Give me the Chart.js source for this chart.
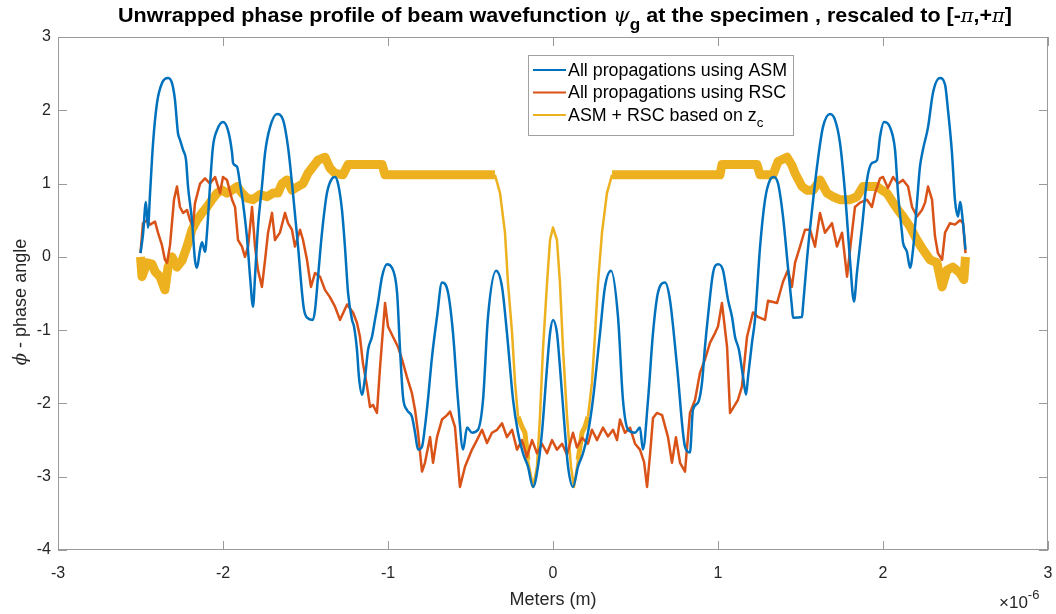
<!DOCTYPE html>
<html>
<head>
<meta charset="utf-8">
<script src="https://cdn.jsdelivr.net/npm/chart.js@4.4.1/dist/chart.umd.min.js"></script>
<style>
  body { margin: 0; background: #fff; }
  canvas { display: block; }
</style>
</head>
<body>
<canvas id="myChart" width="1056" height="614"></canvas>
<script>
// x values are in units of 1e-6 m (axis shows the x10^-6 multiplier)
var xTicks = [-3, -2, -1, 0, 1, 2, 3];
var yTicks = [-4, -3, -2, -1, 0, 1, 2, 3];

// All propagations using ASM
var asmX = [-2.5, -2.485, -2.467, -2.455, -2.442, -2.424, -2.4, -2.37, -2.333, -2.309, -2.291, -2.273, -2.261, -2.242, -2.224, -2.212, -2.188, -2.17, -2.158, -2.139, -2.127, -2.109, -2.097, -2.079, -2.061, -2.036, -2.0, -1.97, -1.945, -1.939, -1.915, -1.897, -1.879, -1.855, -1.836, -1.818, -1.806, -1.788, -1.764, -1.745, -1.715, -1.673, -1.636, -1.606, -1.576, -1.545, -1.521, -1.509, -1.491, -1.455, -1.442, -1.424, -1.4, -1.37, -1.339, -1.321, -1.303, -1.279, -1.261, -1.242, -1.218, -1.206, -1.188, -1.176, -1.158, -1.139, -1.121, -1.097, -1.079, -1.061, -1.036, -1.006, -0.976, -0.945, -0.927, -0.909, -0.885, -0.855, -0.836, -0.818, -0.794, -0.776, -0.758, -0.733, -0.703, -0.673, -0.636, -0.606, -0.576, -0.545, -0.521, -0.491, -0.455, -0.424, -0.394, -0.345, -0.309, -0.279, -0.242, -0.212, -0.182, -0.152, -0.121, -0.091, -0.067, -0.036, -0.018, 0,
  0.024, 0.042, 0.073, 0.091, 0.121, 0.152, 0.182, 0.212, 0.242, 0.285, 0.315, 0.352, 0.394, 0.424, 0.455, 0.497, 0.527, 0.545, 0.576, 0.606, 0.636, 0.679, 0.709, 0.752, 0.8, 0.83, 0.848, 0.879, 0.903, 0.921, 0.939, 0.97, 1.0, 1.03, 1.061, 1.085, 1.103, 1.127, 1.152, 1.17, 1.182, 1.206, 1.224, 1.255, 1.285, 1.315, 1.339, 1.364, 1.394, 1.424, 1.448, 1.455, 1.509, 1.515, 1.539, 1.57, 1.6, 1.636, 1.679, 1.709, 1.739, 1.77, 1.8, 1.824, 1.842, 1.873, 1.903, 1.933, 1.964, 1.982, 2.006, 2.042, 2.073, 2.091, 2.115, 2.121, 2.145, 2.164, 2.182, 2.206, 2.224, 2.242, 2.273, 2.303, 2.345, 2.376, 2.394, 2.418, 2.436, 2.455, 2.467, 2.485, 2.5];
var asmY = [0.05, 0.3, 0.75, 0.4, 0.87, 1.55, 2.1, 2.37, 2.44, 2.37, 2.14, 1.69, 1.6, 1.46, 1.32, 0.96, 0.5, -0.04, -0.15, 0.1, 0.2, 0.07, 0.33, 0.96, 1.5, 1.73, 1.84, 1.73, 1.42, 1.28, 1.23, 1.0, 0.74, 0.27, -0.27, -0.68, -0.27, 0.41, 0.96, 1.42, 1.77, 1.95, 1.87, 1.5, 0.87, 0.14, -0.49, -0.72, -0.83, -0.86, -0.72, -0.27, 0.33, 0.87, 1.07, 1.09, 1.0, 0.64, 0.14, -0.49, -0.86, -0.95, -1.27, -1.64, -1.88, -1.64, -1.27, -1.09, -0.86, -0.63, -0.27, -0.1, -0.15, -0.49, -1.27, -1.91, -2.09, -2.18, -2.4, -2.63, -2.59, -2.32, -1.95, -1.36, -0.82, -0.35, -0.49, -1.04, -1.95, -2.63, -2.33, -2.4, -2.36, -1.95, -0.82, -0.19, -0.41, -1.04, -1.95, -2.4, -2.68, -2.86, -3.14, -2.86, -2.4, -1.5, -1.04, -0.86,
  -1.04, -1.5, -2.4, -2.86, -3.14, -2.86, -2.68, -2.4, -1.95, -1.04, -0.41, -0.19, -0.82, -1.95, -2.36, -2.4, -2.33, -2.63, -1.95, -1.04, -0.49, -0.35, -0.59, -1.5, -2.59, -2.67, -2.09, -1.99, -1.72, -1.23, -0.82, -0.22, -0.1, -0.18, -0.59, -0.82, -1.09, -1.27, -1.64, -1.88, -1.64, -1.17, -0.86, 0.14, 0.78, 1.05, 1.09, 1.0, 0.55, -0.14, -0.68, -0.83, -0.82, -0.68, -0.04, 0.64, 1.23, 1.77, 1.95, 1.87, 1.56, 0.87, -0.04, -0.61, -0.22, 0.41, 1.05, 1.28, 1.32, 1.64, 1.84, 1.77, 1.46, 0.87, 0.33, 0.2, 0.07, -0.15, 0.1, 0.74, 1.23, 1.46, 1.77, 2.24, 2.44, 2.35, 2.0, 1.42, 0.78, 0.55, 0.75, 0.46, 0.1];

// All propagations using RSC
var rscX = [-2.5, -2.485, -2.461, -2.442, -2.412, -2.394, -2.37, -2.352, -2.339, -2.321, -2.297, -2.279, -2.261, -2.242, -2.218, -2.2, -2.182, -2.17, -2.139, -2.109, -2.079, -2.048, -2.018, -2.0, -1.976, -1.945, -1.927, -1.909, -1.885, -1.867, -1.848, -1.824, -1.806, -1.788, -1.764, -1.745, -1.727, -1.703, -1.685, -1.655, -1.624, -1.606, -1.582, -1.564, -1.533, -1.515, -1.491, -1.467, -1.442, -1.412, -1.382, -1.352, -1.321, -1.291, -1.248, -1.212, -1.188, -1.17, -1.152, -1.127, -1.109, -1.091, -1.067, -1.048, -1.018, -1.0, -0.97, -0.939, -0.915, -0.885, -0.855, -0.836, -0.818, -0.794, -0.776, -0.745, -0.727, -0.703, -0.673, -0.642, -0.624, -0.594, -0.564, -0.533, -0.491, -0.461, -0.43, -0.4, -0.37, -0.339, -0.309, -0.279, -0.248, -0.218, -0.188, -0.158, -0.127, -0.097, -0.067, -0.036, -0.006,
  0.024, 0.055, 0.085, 0.121, 0.145, 0.176, 0.212, 0.236, 0.267, 0.303, 0.333, 0.364, 0.388, 0.406, 0.436, 0.467, 0.497, 0.527, 0.552, 0.57, 0.588, 0.606, 0.63, 0.661, 0.697, 0.721, 0.745, 0.77, 0.8, 0.83, 0.861, 0.891, 0.921, 0.952, 0.982, 1.0, 1.024, 1.055, 1.073, 1.103, 1.121, 1.145, 1.176, 1.212, 1.242, 1.285, 1.303, 1.358, 1.394, 1.424, 1.448, 1.467, 1.497, 1.527, 1.558, 1.588, 1.618, 1.648, 1.691, 1.721, 1.752, 1.782, 1.812, 1.83, 1.861, 1.903, 1.933, 1.952, 1.982, 2.0, 2.03, 2.061, 2.091, 2.121, 2.152, 2.176, 2.206, 2.236, 2.255, 2.273, 2.297, 2.315, 2.333, 2.358, 2.376, 2.406, 2.436, 2.467, 2.485, 2.5];
var rscY = [0.05, 0.46, 0.5, 0.44, 0.48, 0.33, 0.16, -0.04, -0.08, 0.16, 0.78, 0.96, 0.68, 0.6, 0.64, 0.5, 0.41, 0.73, 1.0, 1.07, 1.0, 1.09, 0.87, 1.09, 1.05, 0.78, 0.68, 0.23, 0.14, 0, 0.14, 0.68, 0.14, -0.18, -0.41, -0.04, 0.33, 0.6, 0.23, 0.33, 0.6, 0.46, 0.37, 0.14, 0.37, 0.23, -0.04, -0.41, -0.22, -0.27, -0.45, -0.55, -0.68, -0.86, -0.65, -0.76, -0.9, -1.09, -1.45, -1.77, -2.05, -2.02, -2.13, -1.5, -0.63, -0.95, -1.09, -1.23, -1.4, -1.64, -1.86, -2.09, -2.4, -2.93, -2.81, -2.46, -2.81, -2.46, -2.22, -2.16, -2.11, -2.32, -3.14, -2.86, -2.63, -2.5, -2.36, -2.54, -2.4, -2.36, -2.27, -2.46, -2.36, -2.63, -2.5, -2.73, -2.5, -2.68, -2.55, -2.68, -2.5,
  -2.63, -2.55, -2.7, -2.4, -2.6, -2.47, -2.55, -2.36, -2.5, -2.33, -2.45, -2.36, -2.5, -2.22, -2.4, -2.33, -2.55, -2.63, -2.8, -3.14, -2.7, -2.2, -2.13, -2.16, -2.46, -2.81, -2.46, -2.81, -2.93, -2.13, -1.95, -1.58, -1.4, -1.17, -1.04, -0.95, -0.63, -1.23, -2.13, -2.02, -1.95, -1.77, -1.09, -0.76, -0.82, -0.86, -0.6, -0.63, -0.34, -0.18, -0.41, -0.08, 0.14, 0.37, 0.37, 0.14, 0.6, 0.33, 0.46, 0.14, 0.33, -0.27, 0.33, 0.68, 0.74, 0.78, 0.68, 0.87, 1.07, 1.09, 0.94, 1.09, 1.0, 1.05, 0.96, 0.68, 0.55, 0.64, 0.74, 0.96, 0.78, 0.28, 0.05, -0.04, 0.33, 0.46, 0.44, 0.5, 0.46, 0.05];

// ASM + RSC based on z_c
var mixX = [-2.5, -2.491, -2.461, -2.43, -2.412, -2.382, -2.352, -2.333, -2.309, -2.279, -2.248, -2.218, -2.188, -2.158, -2.127, -2.097, -2.067, -2.036, -2.006, -1.976, -1.945, -1.915, -1.885, -1.855, -1.818, -1.776, -1.733, -1.697, -1.667, -1.642, -1.612, -1.582, -1.545, -1.515, -1.485, -1.455, -1.424, -1.382, -1.352, -1.321, -1.273, -1.242, -1.036, -1.018, -0.352,
  -0.321, -0.291, -0.273, -0.248, -0.23, -0.212, -0.188, -0.17, -0.152, -0.121, -0.097, -0.079, -0.061, -0.036, -0.018, 0, 0.024, 0.042, 0.061, 0.085, 0.109, 0.127, 0.152, 0.176, 0.194, 0.212, 0.236, 0.255, 0.273, 0.297, 0.327, 0.358,
  1.012, 1.024, 1.236, 1.255, 1.333, 1.364, 1.418, 1.448, 1.467, 1.509, 1.539, 1.576, 1.618, 1.661, 1.697, 1.739, 1.8, 1.842, 1.879, 1.964, 1.994, 2.024, 2.061, 2.091, 2.121, 2.164, 2.206, 2.242, 2.285, 2.327, 2.358, 2.388, 2.424, 2.467, 2.49, 2.5];
var mixY = [0, -0.27, -0.08, -0.1, -0.2, -0.27, -0.45, -0.14, 0, -0.14, -0.05, 0.14, 0.37, 0.5, 0.6, 0.68, 0.78, 0.87, 0.91, 0.87, 0.91, 0.96, 0.87, 0.8, 0.78, 0.85, 0.82, 0.87, 0.87, 1.0, 1.05, 0.91, 0.96, 1.0, 1.14, 1.23, 1.32, 1.36, 1.21, 1.14, 1.12, 1.26, 1.26, 1.12, 1.12,
  0.87, 0.33, -0.35, -1.04, -1.72, -2.18, -2.32, -2.4, -2.77, -3.14, -2.86, -2.18, -1.27, -0.35, 0.23, 0.4, 0.23, -0.35, -1.27, -2.18, -2.86, -3.14, -2.77, -2.4, -2.32, -2.18, -1.72, -1.04, -0.35, 0.33, 0.87, 1.12,
  1.12, 1.26, 1.26, 1.12, 1.12, 1.3, 1.36, 1.25, 1.14, 0.96, 0.91, 0.91, 1.05, 0.87, 0.82, 0.78, 0.78, 0.82, 0.96, 0.96, 0.91, 0.87, 0.74, 0.64, 0.55, 0.41, 0.23, 0.1, -0.04, -0.08, -0.41, -0.18, -0.14, -0.22, -0.31, 0];

var seriesNames = ['All propagations using ASM', 'All propagations using RSC', 'ASM + RSC based on z'];
var seriesColors = ['#0072BD', '#D95319', '#EDB120'];

function toPoints(xs, ys) {
    return xs.map(function (x, i) { return { x: x, y: ys[i] }; });
}

var TEXT = '#262626';
var AXIS = '#9a9a9a';
var SANS = "'Liberation Sans', Arial, sans-serif";
var NARROW = "'Liberation Sans Narrow', 'Liberation Sans', Arial, sans-serif";
var MATH = "'DejaVu Serif', serif";

// draw a run of differently styled pieces, squeezed to a given width
function richText(ctx, parts, x, y, width) {
    var total = 0;
    parts.forEach(function (p) { ctx.font = p.f; total += ctx.measureText(p.t).width; });
    var s = width ? width / total : 1;
    ctx.save();
    ctx.translate(x, y);
    ctx.scale(s, 1);
    var cx = 0;
    parts.forEach(function (p) {
        ctx.font = p.f;
        ctx.fillText(p.t, cx, p.dy || 0);
        cx += ctx.measureText(p.t).width;
    });
    ctx.restore();
    return total * s;
}

var decorations = {
    id: 'decorations',
    afterDraw: function (chart) {
        var ctx = chart.ctx;
        var a = chart.chartArea;
        var xs = chart.scales.x, ys = chart.scales.y;
        ctx.save();

        // box with inward ticks on all four sides
        ctx.strokeStyle = AXIS;
        ctx.lineWidth = 1;
        ctx.strokeRect(a.left + 0.5, a.top + 0.5, a.right - a.left - 1, a.bottom - a.top - 1);
        var tl = 9;
        ctx.beginPath();
        xTicks.forEach(function (v) {
            var px = Math.round(xs.getPixelForValue(v)) + 0.5;
            ctx.moveTo(px, a.bottom); ctx.lineTo(px, a.bottom - tl);
            ctx.moveTo(px, a.top); ctx.lineTo(px, a.top + tl);
        });
        yTicks.forEach(function (v) {
            var py = Math.round(ys.getPixelForValue(v)) + 0.5;
            ctx.moveTo(a.left, py); ctx.lineTo(a.left + tl, py);
            ctx.moveTo(a.right, py); ctx.lineTo(a.right - tl, py);
        });
        ctx.stroke();

        // title
        ctx.fillStyle = '#000';
        ctx.textBaseline = 'alphabetic';
        ctx.textAlign = 'left';
        richText(ctx, [
            { t: 'Unwrapped phase profile of beam wavefunction ', f: 'bold 20px ' + NARROW },
            { t: '\u03C8', f: 'italic 20px ' + MATH },
            { t: 'g', f: 'bold 16px ' + NARROW, dy: 8 },
            { t: ' at the specimen , rescaled to [-', f: 'bold 20px ' + NARROW },
            { t: '\u03C0', f: 'italic 18px ' + MATH },
            { t: ',+', f: 'bold 20px ' + NARROW },
            { t: '\u03C0', f: 'italic 18px ' + MATH },
            { t: ']', f: 'bold 20px ' + NARROW }
        ], 118, 22, 894);

        // axis titles
        ctx.fillStyle = TEXT;
        ctx.font = '18px ' + SANS;
        ctx.textAlign = 'center';
        ctx.fillText('Meters (m)', (a.left + a.right) / 2, 605);

        ctx.save();
        ctx.translate(26, 302);
        ctx.rotate(-Math.PI / 2);
        var yParts = [
            { t: '\u03D5', f: 'italic 18px ' + MATH },
            { t: ' - phase angle', f: '18px ' + SANS }
        ];
        var w = 0;
        yParts.forEach(function (p) { ctx.font = p.f; w += ctx.measureText(p.t).width; });
        ctx.textAlign = 'left';
        richText(ctx, yParts, -w / 2, 0);
        ctx.restore();

        // exponent of the x axis
        ctx.textAlign = 'left';
        richText(ctx, [
            { t: '\u00D710', f: '17px ' + SANS },
            { t: '-6', f: '13px ' + SANS, dy: -9 }
        ], 999, 608);

        // legend
        var lx = 528, ly = 55, lw = 265, lh = 80;
        ctx.fillStyle = '#fff';
        ctx.fillRect(lx, ly, lw, lh);
        ctx.strokeStyle = '#a0a0a0';
        ctx.strokeRect(lx + 0.5, ly + 0.5, lw, lh);
        ctx.font = '16px ' + SANS;
        var fs = 16 * 219 / ctx.measureText(seriesNames[0]).width;
        var rows = [70, 92.5, 115];
        seriesNames.forEach(function (name, i) {
            ctx.strokeStyle = seriesColors[i];
            ctx.lineWidth = 2;
            ctx.beginPath();
            ctx.moveTo(533, rows[i]); ctx.lineTo(566, rows[i]);
            ctx.stroke();
            ctx.fillStyle = '#000';
            ctx.textBaseline = 'middle';
            var parts = [{ t: name, f: fs.toFixed(2) + 'px ' + SANS }];
            if (i === 2) parts.push({ t: 'c', f: (fs * 0.75).toFixed(2) + 'px ' + SANS, dy: 7 });
            richText(ctx, parts, 568, rows[i] + 1);
        });
        ctx.restore();
    }
};

var ctx = document.getElementById('myChart').getContext('2d');
var chart = new Chart(ctx, {
    type: 'line',
    data: {
        datasets: [{
            label: seriesNames[0],
            data: toPoints(asmX, asmY),
            borderColor: seriesColors[0],
            borderWidth: 2.5,
            cubicInterpolationMode: 'monotone',
            pointRadius: 0
        }, {
            label: seriesNames[1],
            data: toPoints(rscX, rscY),
            borderColor: seriesColors[1],
            borderWidth: 2.5,
            borderJoinStyle: 'round',
            pointRadius: 0
        }, {
            label: seriesNames[2],
            data: toPoints(mixX, mixY),
            borderColor: seriesColors[2],
            borderWidth: 2.5,
            borderJoinStyle: 'round',
            pointRadius: 0,
            // the noisy outer parts show up as a thick band
            segment: {
                borderWidth: function (c) {
                    var m = Math.abs((c.p0.parsed.x + c.p1.parsed.x) / 2);
                    if (m > 0.35) return 9;
                    if (m > 0.14 && m < 0.22) return 5;
                    return 2.5;
                }
            }
        }]
    },
    options: {
        responsive: false,
        animation: false,
        layout: { padding: { left: 0, right: 8, top: 37, bottom: 0 } },
        plugins: {
            legend: { display: false },
            tooltip: { enabled: false }
        },
        scales: {
            x: {
                type: 'linear',
                min: -3,
                max: 3,
                afterFit: function (s) { s.height = 64; s.paddingLeft = 0; s.paddingRight = 0; },
                afterBuildTicks: function (s) { s.ticks = xTicks.map(function (v) { return { value: v }; }); },
                grid: { display: false, drawTicks: false },
                border: { display: false },
                ticks: { color: TEXT, font: { family: SANS, size: 16 }, padding: 14 }
            },
            y: {
                type: 'linear',
                min: -4,
                max: 3,
                afterFit: function (s) { s.width = 58; s.paddingTop = 0; s.paddingBottom = 0; },
                afterBuildTicks: function (s) { s.ticks = yTicks.map(function (v) { return { value: v }; }); },
                grid: { display: false, drawTicks: false },
                border: { display: false },
                ticks: { color: TEXT, font: { family: SANS, size: 16 }, padding: 7 }
            }
        }
    },
    plugins: [decorations]
});
</script>
</body>
</html>
